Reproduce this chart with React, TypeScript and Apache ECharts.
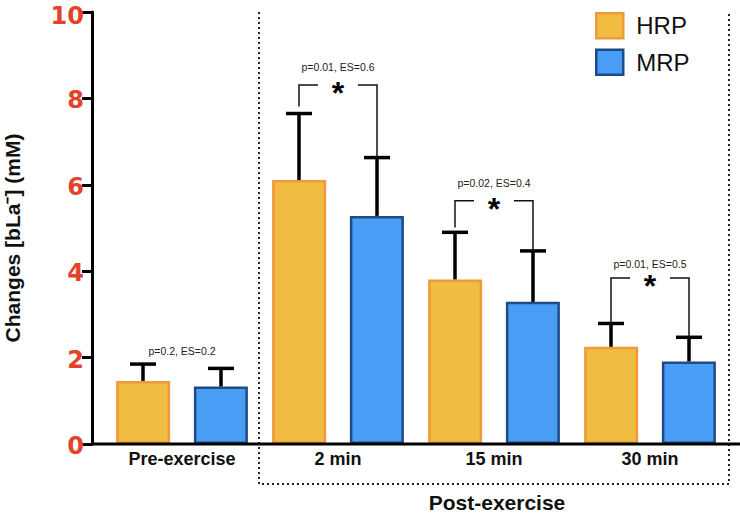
import React, { useEffect, useRef } from 'react';
import * as echarts from 'echarts';

const categories = ['Pre-exercise', '2 min', '15 min', '30 min'];
const hrpMean = [1.46, 6.11, 3.81, 2.25];
const mrpMean = [1.33, 5.28, 3.29, 1.91];
const hrpSd = [0.39, 1.54, 1.09, 0.54];
const mrpSd = [0.42, 1.35, 1.18, 0.56];
const statLabels = ['p=0.2, ES=0.2', 'p=0.01, ES=0.6', 'p=0.02, ES=0.4', 'p=0.01, ES=0.5'];
const statLabelY = [2.15, 8.73, 6.04, 4.17];
const bracketCats = [1, 2, 3];
const bracketTop = [8.31, 5.63, 3.84];
const bracketLeftEnd = [7.81, 5.01, 2.83];

const FONT = '"Liberation Sans", Arial, Helvetica, sans-serif';
const NUM_FONT = '"DejaVu Sans", sans-serif';
const HRP_FILL = '#F0BC42';
const HRP_BORDER = '#EF9A3A';
const MRP_FILL = '#4A9DF5';
const MRP_BORDER = '#1E4B88';
const RED = '#E3432B';
const BAR_OFFSET = 39;

export default function App() {
  const ref = useRef<HTMLDivElement>(null);
  useEffect(() => {
    if (!ref.current) return;
    const chart = echarts.init(ref.current, undefined, { renderer: 'svg' });

    const errData: number[][] = [];
    categories.forEach((_, i) => {
      errData.push([i, hrpMean[i], hrpSd[i], -1]);
      errData.push([i, mrpMean[i], mrpSd[i], 1]);
    });
    const bracketData = bracketCats.map((c, k) => [
      c,
      bracketTop[k],
      bracketLeftEnd[k],
      mrpMean[c] + mrpSd[c],
    ]);
    const labelData = categories.map((_, i) => [i, statLabelY[i], i]);

    const numStyle = {
      fontSize: 24,
      lineHeight: 20,
      fontWeight: 'bold',
      color: RED,
      fontFamily: NUM_FONT,
    };

    const option: any = {
      animation: false,
      backgroundColor: '#fff',
      grid: { left: 104, right: 12, top: 12, bottom: 70, containLabel: false, outerBoundsMode: 'none' },
      legend: {
        orient: 'vertical',
        left: 595,
        top: 12,
        padding: 0,
        itemWidth: 27,
        itemHeight: 25,
        itemGap: 9,
        icon: 'rect',
        textStyle: { fontSize: 24, color: '#111', fontFamily: FONT, padding: [0, 0, 0, 8] },
        data: [
          { name: 'HRP', itemStyle: { color: HRP_FILL, borderColor: HRP_BORDER, borderWidth: 2.5 } },
          { name: 'MRP', itemStyle: { color: MRP_FILL, borderColor: MRP_BORDER, borderWidth: 2.5 } },
        ],
      },
      xAxis: {
        type: 'category',
        data: categories,
        axisLine: { show: false },
        axisTick: { show: false },
        axisLabel: {
          margin: 6,
          fontSize: 18,
          fontWeight: 'bold',
          color: '#111',
          fontFamily: FONT,
        },
      },
      yAxis: {
        type: 'value',
        min: 0,
        max: 10,
        interval: 2,
        offset: 12,
        axisLine: { show: true, lineStyle: { color: '#000', width: 3 } },
        axisTick: { show: true, length: 10, lineStyle: { color: '#000', width: 3 } },
        splitLine: { show: false },
        axisLabel: {
          margin: 8,
          ...numStyle,
          formatter: (v: number) => (v === 10 ? '{t|' + v + '}' : '{n|' + v + '}'),
          rich: {
            t: { ...numStyle, padding: [8, 0, 0, 0] },
            n: { ...numStyle, padding: [4, 0, 0, 0] },
          },
        },
      },
      series: [
        {
          name: 'HRP',
          type: 'bar',
          data: hrpMean,
          barWidth: 54,
          barGap: '44%',
          itemStyle: { color: HRP_FILL, borderColor: HRP_BORDER, borderWidth: 2.5 },
          z: 2,
        },
        {
          name: 'MRP',
          type: 'bar',
          data: mrpMean,
          barWidth: 54,
          barGap: '44%',
          itemStyle: { color: MRP_FILL, borderColor: MRP_BORDER, borderWidth: 2.5 },
          z: 2,
        },
        {
          name: 'err',
          type: 'custom',
          data: errData,
          z: 3,
          renderItem: (params: any, api: any) => {
            const i = api.value(0);
            const mean = api.value(1);
            const sd = api.value(2);
            const side = api.value(3);
            const base = api.coord([i, mean]);
            const top = api.coord([i, mean + sd]);
            const x = base[0] + side * BAR_OFFSET;
            return {
              type: 'group',
              children: [
                { type: 'line', shape: { x1: x, y1: base[1], x2: x, y2: top[1] }, style: { stroke: '#000', lineWidth: 3.5 } },
                { type: 'line', shape: { x1: x - 13, y1: top[1], x2: x + 13, y2: top[1] }, style: { stroke: '#000', lineWidth: 3.5 } },
              ],
            };
          },
        },
        {
          name: 'brackets',
          type: 'custom',
          data: bracketData,
          z: 4,
          renderItem: (params: any, api: any) => {
            const i = api.value(0);
            const c = api.coord([i, api.value(1)]);
            const l = api.coord([i, api.value(2)]);
            const r = api.coord([i, api.value(3)]);
            const lx = c[0] - BAR_OFFSET;
            const rx = c[0] + BAR_OFFSET;
            const st = { stroke: '#111', lineWidth: 1.5 };
            return {
              type: 'group',
              children: [
                { type: 'polyline', shape: { points: [[lx, l[1]], [lx, c[1]], [c[0] - 20, c[1]]] }, style: { ...st, fill: 'none' } },
                { type: 'polyline', shape: { points: [[c[0] + 20, c[1]], [rx, c[1]], [rx, r[1]]] }, style: { ...st, fill: 'none' } },
                {
                  type: 'text',
                  x: c[0],
                  y: c[1] + 8,
                  style: {
                    text: '*',
                    fontSize: 32,
                    fontWeight: 'bold',
                    fontFamily: FONT,
                    fill: '#000',
                    align: 'center',
                    verticalAlign: 'middle',
                  },
                },
              ],
            };
          },
        },
        {
          name: 'stats',
          type: 'custom',
          data: labelData,
          z: 4,
          renderItem: (params: any, api: any) => {
            const i = api.value(0);
            const c = api.coord([i, api.value(1)]);
            return {
              type: 'text',
              x: c[0],
              y: c[1],
              style: {
                text: statLabels[api.value(2)],
                fontSize: 10.5,
                fontFamily: FONT,
                fill: '#222',
                align: 'center',
                verticalAlign: 'middle',
              },
            };
          },
        },
      ],
      graphic: [
        {
          type: 'line',
          shape: { x1: 91, y1: 444, x2: 740, y2: 444 },
          style: { stroke: '#000', lineWidth: 3 },
          z: 10,
        },
        {
          type: 'polyline',
          shape: { points: [[259, 12], [259, 484], [729, 484], [729, 12]] },
          style: { stroke: '#222', lineWidth: 2, lineDash: [2, 3], fill: 'none' },
          z: 1,
        },
        {
          type: 'text',
          x: 497,
          y: 502,
          style: {
            text: 'Post-exercise',
            fontSize: 21,
            fontWeight: 'bold',
            fontFamily: FONT,
            fill: '#111',
            align: 'center',
            verticalAlign: 'middle',
          },
        },
        {
          type: 'text',
          x: 12,
          y: 238,
          rotation: Math.PI / 2,
          style: {
            text: 'Changes [bLa\u207B] (mM)',
            fontSize: 21,
            fontWeight: 'bold',
            fontFamily: FONT,
            fill: '#111',
            align: 'center',
            verticalAlign: 'middle',
          },
        },
      ],
    };
    chart.setOption(option);
    return () => chart.dispose();
  }, []);
  return <div ref={ref} style={{ position: 'fixed', left: 0, top: 0, width: 740, height: 514 }} />;
}
